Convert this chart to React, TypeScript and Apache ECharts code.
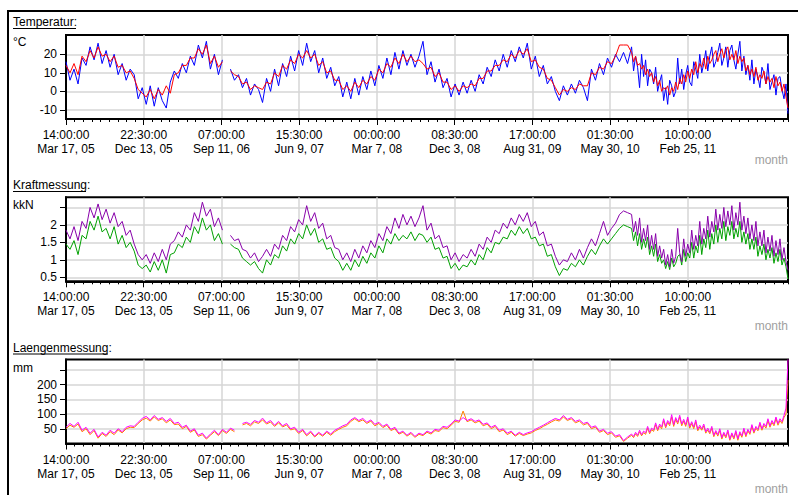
import React, { useEffect, useRef } from "react";
import * as echarts from "echarts";

// ---- tick labels (x axis, one per major tick) ----
const tickTimes = ["14:00:00", "22:30:00", "07:00:00", "15:30:00", "00:00:00", "08:30:00", "17:00:00", "01:30:00", "10:00:00"];
const tickDates = ["Mar 17, 05", "Dec 13, 05", "Sep 11, 06", "Jun 9, 07", "Mar 7, 08", "Dec 3, 08", "Aug 31, 09", "May 30, 10", "Feb 25, 11"];

// Sampling: main part = 141 samples (0..140), tail (denser logging) = 79 samples at half spacing.

// ---- Temperatur (°C) ----
const tempBlue = [
  16, 6, 12, 4, 18, 14, 24, 17, 26, 15,
  22, 13, 20, 9, 15, 6, 12, 9, -4, 2,
  -7, 3, -8, 2, -5, -9, 5, 11, 7, 15,
  10, 19, 14, 25, 18, 27, 12, 20, 9, 17,
  null, 12, 6, 9, 2, 7, -2, 4, 1, -6,
  7, 0, 12, 3, 15, 8, 19, 11, 22, 14,
  26, 16, 22, 10, 18, 7, 13, 3, 8, -3,
  5, -4, 7, -2, 8, 1, 11, 3, 14, 7,
  18, 9, 21, 12, 22, 14, 20, 13, 19, 27,
  9, 16, 5, 12, 2, 7, -3, 4, -2, 5,
  -1, 6, 0, 9, 4, 13, 8, 17, 11, 20,
  13, 22, 16, 24, 18, 26, 12, 19, 8, 14,
  4, 8, 0, -5, 3, -2, 4, -1, 6, 2,
  -5, 12, 6, 15, 9, 18, 13, 20, 16, 21,
  15,
];
const tempBlueTail = [
  24, 11, 19, 13, 2, 20, 8, 17, 3, 12,
  10, 4, 13, 0, 5, 9, -5, 2, -7, 6,
  3, -3, 0, 18, 4, 12, 1, 9, 14, 5,
  3, 16, 12, 7, 20, 10, 15, 22, 11, 19,
  24, 13, 16, 21, 26, 14, 18, 24, 13, 22,
  25, 17, 12, 20, 27, 11, 19, 9, 14, 6,
  17, 4, 12, 8, 2, 13, 10, 4, 15, 1,
  5, 9, -2, 7, 8, 1, -4, 4, -12,
];
const tempRed = [
  14, 10, 15, 9, 19, 16, 22, 18, 24, 19,
  20, 16, 19, 13, 14, 10, 11, 7, 1, -1,
  -3, 1, -4, 1, -2, 3, -1, 9, 10, 14,
  14, 18, 18, 23, 20, 25, 15, 19, 13, 16,
  null, 11, 9, 8, 4, 5, 1, 3, 2, 1,
  5, 4, 10, 8, 14, 12, 17, 15, 20, 18,
  22, 18, 20, 14, 16, 10, 11, 6, 6, 1,
  3, 0, 5, 2, 6, 4, 8, 6, 12, 10,
  15, 13, 18, 15, 20, 16, 19, 16, 17, 15,
  12, 13, 8, 10, 5, 5, 1, 3, 0, 3,
  2, 4, 3, 7, 7, 11, 11, 14, 14, 17,
  16, 20, 18, 22, 20, 23, 16, 17, 13, 12,
  7, 6, 2, -2, 1, 0, 2, 1, 4, 3,
  3, 10, 9, 13, 12, 16, 15, 19, 25, 25,
  25,
];
const tempRedTail = [
  21, 16, 19, 14, 15, 12, 14, 9, 12, 8,
  10, 5, 8, 3, 6, 0, 2, 1, 3, -2,
  2, 0, 5, 1, 7, 4, 9, 5, 11, 7,
  12, 9, 16, 10, 15, 13, 18, 12, 19, 15,
  17, 20, 22, 16, 20, 23, 18, 22, 24, 17,
  20, 17, 22, 15, 19, 16, 18, 11, 14, 9,
  12, 8, 13, 6, 9, 7, 11, 4, 8, 5,
  7, 2, 8, 3, 5, 0, 4, -3, -9,
];

// ---- Kraftmessung (kkN) ----
const forcePurple = [
  1.85, 1.6, 1.95, 1.55, 2.1, 1.9, 2.5, 2.2, 2.6, 2.15,
  2.45, 2.05, 2.35, 1.95, 2.1, 1.7, 1.85, 1.45, 1.15, 1.0,
  1.15, 0.9, 1.2, 0.95, 1.3, 1.0, 1.45, 1.55, 1.8, 1.65,
  2.0, 1.85, 2.35, 2.1, 2.65, 2.25, 2.45, 1.95, 2.2, 1.85,
  null, 1.7, 1.55, 1.6, 1.3, 1.25, 1.05, 1.2, 0.95, 1.1,
  1.3, 1.1, 1.45, 1.3, 1.7, 1.55, 1.95, 1.8, 2.15, 2.0,
  2.55, 2.1, 2.35, 1.9, 2.05, 1.6, 1.7, 1.35, 1.3, 1.0,
  1.2, 0.95, 1.3, 1.05, 1.4, 1.2, 1.55, 1.35, 1.75, 1.55,
  1.95, 1.75, 2.2, 1.9, 2.3, 2.0, 2.25, 1.95, 2.2, 2.55,
  1.85, 2.05, 1.6, 1.7, 1.35, 1.4, 1.0, 1.2, 0.95, 1.15,
  1.05, 1.3, 1.1, 1.45, 1.3, 1.65, 1.5, 1.85, 1.75, 2.05,
  1.9, 2.2, 2.0, 2.3, 2.1, 2.35, 1.95, 2.1, 1.7, 1.8,
  1.4, 1.45, 1.1, 0.85, 1.0, 0.95, 1.2, 1.0, 1.3, 1.05,
  1.35, 1.6, 1.4, 1.75, 2.1, 1.7, 1.9, 2.05, 2.3, 2.4,
  2.35,
];
const forcePurpleTail = [
  2.3, 1.8, 2.1, 1.7, 2.2, 1.5, 1.9, 1.55, 2.0, 1.3,
  1.7, 1.3, 1.75, 1.1, 1.4, 1.05, 1.3, 0.85, 1.15, 0.8,
  1.3, 0.9, 1.1, 1.9, 1.2, 0.95, 1.6, 1.1, 1.45, 1.2,
  1.85, 1.3, 1.7, 1.4, 2.1, 1.45, 1.9, 1.6, 2.25, 1.65,
  2.1, 1.8, 2.45, 1.85, 2.3, 1.9, 2.5, 1.95, 2.4, 2.0,
  2.55, 1.85, 2.35, 2.0, 2.65, 1.85, 2.25, 1.75, 2.2, 1.6,
  2.0, 1.55, 2.1, 1.4, 1.8, 1.4, 1.85, 1.2, 1.65, 1.25,
  1.7, 1.1, 1.55, 1.15, 1.6, 1.0, 1.35, 0.95, 0.7,
];
const forceGreen = [
  1.45, 1.3, 1.55, 1.15, 1.7, 1.6, 2.1, 1.85, 2.25, 1.8,
  1.9, 1.6, 1.95, 1.45, 1.7, 1.35, 1.5, 1.25, 0.85, 0.75,
  0.85, 0.65, 0.95, 0.7, 1.0, 0.62, 1.15, 1.2, 1.45, 1.35,
  1.65, 1.5, 1.95, 1.75, 2.2, 1.85, 2.0, 1.55, 1.75, 1.45,
  null, 1.45, 1.35, 1.3, 1.05, 0.95, 0.85, 0.95, 0.75, 0.62,
  1.0, 0.85, 1.15, 1.05, 1.4, 1.25, 1.6, 1.45, 1.75, 1.6,
  2.0, 1.7, 1.9, 1.5, 1.6, 1.3, 1.35, 1.05, 0.95, 0.7,
  0.9, 0.7, 1.0, 0.8, 1.1, 0.9, 1.2, 1.05, 1.4, 1.2,
  1.6, 1.45, 1.75, 1.55, 1.7, 1.6, 1.8, 1.55, 1.75, 1.7,
  1.5, 1.65, 1.3, 1.35, 1.05, 1.1, 0.75, 0.9, 0.7, 0.85,
  0.8, 1.0, 0.85, 1.15, 1.0, 1.35, 1.2, 1.5, 1.45, 1.65,
  1.6, 1.85, 1.7, 1.95, 1.75, 1.9, 1.6, 1.65, 1.4, 1.45,
  1.1, 1.15, 0.8, 0.55, 0.75, 0.7, 0.9, 0.8, 1.0, 0.85,
  1.1, 1.3, 1.15, 1.4, 1.6, 1.45, 1.6, 1.75, 1.9, 2.0,
  1.95,
];
const forceGreenTail = [
  1.9, 1.55, 1.8, 1.4, 1.75, 1.3, 1.6, 1.35, 1.65, 1.15,
  1.4, 1.1, 1.45, 0.95, 1.15, 0.9, 1.0, 0.75, 0.95, 0.72,
  1.05, 0.8, 0.9, 1.1, 1.15, 0.85, 1.3, 0.95, 1.2, 1.05,
  1.5, 1.05, 1.4, 1.2, 1.7, 1.15, 1.6, 1.35, 1.85, 1.3,
  1.75, 1.45, 2.0, 1.5, 1.9, 1.6, 2.1, 1.55, 1.95, 1.7,
  2.1, 1.6, 1.9, 1.65, 2.1, 1.5, 1.8, 1.45, 1.75, 1.3,
  1.6, 1.3, 1.65, 1.1, 1.4, 1.15, 1.45, 1.0, 1.3, 1.05,
  1.35, 0.9, 1.2, 0.95, 1.3, 0.85, 1.05, 0.8, 0.45,
];

// ---- Laengenmessung (mm) ----
const lengthMagenta = [
  55, 68, 58, 72, 45, 55, 35, 48, 22, 38,
  28, 45, 35, 50, 40, 55, 60, 58, 72, 85,
  92, 80, 95, 82, 88, 75, 85, 68, 72, 55,
  62, 42, 50, 28, 35, 18, 32, 45, 30, 48,
  38, 52, 45, null, 68, 72, 65, 78, 72, 86,
  70, 78, 62, 75, 60, 68, 50, 55, 38, 48,
  30, 42, 25, 38, 28, 42, 32, 45, 52, 60,
  65, 80, 88, 78, 85, 72, 80, 65, 72, 58,
  66, 48, 55, 35, 42, 28, 38, 24, 35, 30,
  42, 36, 48, 45, 58, 55, 66, 80, 76, 88,
  78, 84, 75, 80, 65, 70, 55, 62, 45, 50,
  35, 42, 28, 38, 30, 36, 40, 48, 55, 62,
  70, 78, 85, 80, 95, 82, 88, 75, 80, 68,
  72, 55, 60, 42, 48, 35, 40, 25, 30, 10,
  22,
];
const lengthMagentaTail = [
  32, 24, 38, 28, 45, 30, 42, 36, 58, 38,
  52, 46, 70, 48, 66, 56, 84, 58, 78, 66,
  98, 64, 88, 72, 96, 66, 82, 64, 90, 58,
  74, 56, 80, 48, 62, 50, 66, 40, 52, 38,
  58, 28, 44, 30, 50, 20, 38, 24, 46, 15,
  36, 20, 44, 16, 40, 26, 52, 28, 48, 36,
  64, 40, 58, 48, 72, 50, 68, 58, 84, 60,
  78, 66, 90, 68, 84, 74, 95, 120, 285,
];
const lengthOrange = [
  50, 62, 55, 66, 40, 50, 30, 44, 18, 34,
  24, 40, 30, 46, 36, 50, 55, 54, 68, 80,
  86, 76, 90, 78, 84, 70, 80, 64, 66, 50,
  58, 38, 46, 24, 30, 15, 28, 40, 27, 44,
  34, 48, 40, null, 63, 68, 60, 73, 68, 80,
  66, 73, 58, 70, 56, 63, 46, 50, 34, 44,
  26, 38, 22, 34, 25, 38, 28, 40, 48, 55,
  60, 75, 84, 74, 80, 68, 76, 60, 68, 54,
  62, 44, 50, 32, 38, 25, 34, 21, 31, 27,
  38, 32, 44, 41, 54, 50, 62, 75, 72, 110,
  74, 80, 70, 76, 60, 66, 50, 58, 40, 46,
  30, 38, 25, 34, 27, 32, 36, 44, 50, 58,
  65, 73, 80, 76, 90, 78, 84, 70, 76, 63,
  68, 50, 56, 38, 44, 30, 36, 21, 26, 7,
  18,
];
const lengthOrangeTail = [
  28, 20, 33, 24, 40, 26, 37, 31, 52, 33,
  47, 41, 64, 43, 60, 50, 78, 53, 72, 60,
  90, 58, 82, 66, 90, 60, 76, 58, 84, 52,
  68, 50, 74, 43, 56, 45, 60, 35, 46, 33,
  52, 23, 39, 25, 44, 15, 33, 19, 40, 11,
  31, 15, 39, 11, 35, 21, 46, 23, 43, 31,
  58, 35, 52, 43, 66, 45, 62, 52, 78, 55,
  72, 60, 84, 62, 78, 68, 88, 100, 215,
];

const X_MAX = 83.6; // axis length in months (minor ticks)
const MONTHS_PER_MAJOR = 9;
const FONT = '"Liberation Sans", Arial, sans-serif';

const majorVals = tickTimes.map((_, i) => i * MONTHS_PER_MAJOR);

function toPairs(main: (number | null)[], tail: number[]) {
  const step = X_MAX / (main.length - 1 + (tail.length - 1) / 2 + 1);
  const out: any[] = main.map((v, i) => [i * step, v === null ? "-" : v]);
  tail.forEach((v, j) => out.push([(main.length + j / 2) * step, v]));
  return out;
}

const panels = [
  { top: 35, min: -14.9, max: 30.4, labels: [-10, 0, 10, 20], ticks: [-10, 0, 10, 20],
    series: [{ d: tempBlue, t: tempBlueTail, c: "#0000ff" }, { d: tempRed, t: tempRedTail, c: "#ff0000" }] },
  { top: 197.3, min: 0.385, max: 2.79, labels: [0.5, 1, 1.5, 2], ticks: [0.5, 1, 1.5, 2, 2.5],
    series: [{ d: forceGreen, t: forceGreenTail, c: "#00a000" }, { d: forcePurple, t: forcePurpleTail, c: "#8800aa" }] },
  { top: 359.5, min: 0, max: 285, labels: [50, 100, 150, 200], ticks: [50, 100, 150, 200, 250],
    series: [{ d: lengthOrange, t: lengthOrangeTail, c: "#ff8000" }, { d: lengthMagenta, t: lengthMagentaTail, c: "#ff00ff" }] },
];

const titles = [
  { t: "Temperatur:", y: 22, ul: 76, unit: "°C", uy: 42, my: 160 },
  { t: "Kraftmessung:", y: 185, ul: 86, unit: "kkN", uy: 205, my: 326 },
  { t: "Laengenmessung:", y: 347.5, ul: 108, unit: "mm", uy: 368, my: 489 },
];

export default function App() {
  const ref = useRef<HTMLDivElement>(null);
  useEffect(() => {
    if (!ref.current) return;
    const chart = echarts.init(ref.current, null, { renderer: "svg" });
    const grid: any[] = [];
    const xAxis: any[] = [];
    const yAxis: any[] = [];
    const series: any[] = [];
    panels.forEach((p, g) => {
      grid.push({ left: 66, top: p.top, width: 722, height: 84, show: true, borderColor: "#000", borderWidth: 2, backgroundColor: "#fff" });
      xAxis.push({
        type: "value", gridIndex: g, min: 0, max: X_MAX, position: "bottom",
        axisLine: { show: true, onZero: false, lineStyle: { color: "#000", width: 2 } },
        axisTick: { show: true, customValues: majorVals, length: 6, lineStyle: { color: "#000", width: 1 } },
        axisLabel: {
          customValues: majorVals, color: "#000", fontSize: 12, fontFamily: FONT, lineHeight: 14, margin: 9,
          formatter: (v: number) => {
            const k = Math.round(v / MONTHS_PER_MAJOR);
            return tickTimes[k] ? tickTimes[k] + "\n" + tickDates[k] : "";
          },
        },
        splitLine: { show: true, lineStyle: { color: "#d6d6d6", width: 1.5 } },
      });
      xAxis.push({
        type: "value", gridIndex: g, min: 0, max: X_MAX, interval: 1, position: "bottom",
        axisLine: { show: false, onZero: false },
        axisTick: { show: true, length: 3, lineStyle: { color: "#000", width: 1 } },
        axisLabel: { show: false },
        splitLine: { show: false },
      });
      yAxis.push({
        type: "value", gridIndex: g, min: p.min, max: p.max,
        axisLine: { show: true, onZero: false, lineStyle: { color: "#000", width: 2 } },
        axisTick: { show: true, customValues: p.ticks, length: 6, lineStyle: { color: "#000", width: 1 } },
        axisLabel: { customValues: p.labels, color: "#000", fontSize: 12, fontFamily: FONT, margin: 9 },
        splitLine: { show: true, lineStyle: { color: "#d6d6d6", width: 1.5 } },
      });
      p.series.forEach((s) => {
        series.push({
          type: "line", xAxisIndex: g * 2, yAxisIndex: g, data: toPairs(s.d, s.t),
          showSymbol: false, symbol: "none", connectNulls: false,
          lineStyle: { color: s.c, width: 1 }, itemStyle: { color: s.c },
        });
      });
    });
    const graphic: any[] = [
      { type: "line", shape: { x1: 8, y1: 11, x2: 798, y2: 11 }, style: { stroke: "#000", lineWidth: 2 } },
      { type: "line", shape: { x1: 8, y1: 10, x2: 8, y2: 495 }, style: { stroke: "#000", lineWidth: 2 } },
    ];
    titles.forEach((t) => {
      graphic.push({ type: "text", x: 13, y: t.y, style: { text: t.t, fill: "#000", font: `12px ${FONT}`, verticalAlign: "middle" } });
      graphic.push({ type: "line", shape: { x1: 13, y1: t.y + 6.5, x2: t.ul, y2: t.y + 6.5 }, style: { stroke: "#000", lineWidth: 1 } });
      graphic.push({ type: "text", x: 13, y: t.uy, style: { text: t.unit, fill: "#000", font: `12px ${FONT}`, verticalAlign: "middle" } });
      graphic.push({ type: "text", x: 788, y: t.my, style: { text: "month", fill: "#a0a0a0", font: `12px ${FONT}`, align: "right", verticalAlign: "middle" } });
    });
    chart.setOption({
      animation: false,
      backgroundColor: "#fff",
      grid, xAxis, yAxis, series, graphic,
    });
    return () => chart.dispose();
  }, []);
  return <div ref={ref} style={{ position: "fixed", left: 0, top: 0, width: 798, height: 495, background: "#fff" }} />;
}
